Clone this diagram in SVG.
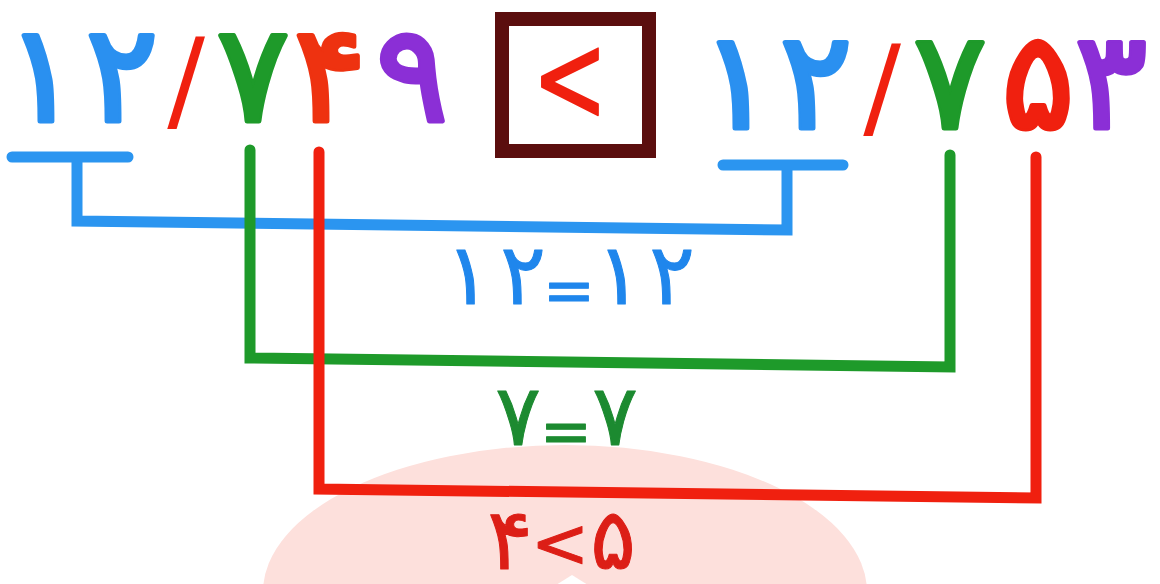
<svg xmlns="http://www.w3.org/2000/svg" width="1160" height="584" viewBox="0 0 1160 584">
<style>
.d{font-family:"DejaVu Sans","Noto Sans",sans-serif;font-weight:normal;text-anchor:middle;stroke-linejoin:round;paint-order:stroke}
.big{font-size:135px;stroke-width:5px}
.lab{font-size:85px;stroke-width:1px}
.blue{fill:#2a90f0;stroke:#2a90f0}.green{fill:#1e9a2a;stroke:#1e9a2a}.red{fill:#f0200f;stroke:#f0200f}.purple{fill:#8b2fd6;stroke:#8b2fd6}.orange{fill:#ee3210;stroke:#ee3210}
.lblue{fill:#1f86ec;stroke:#1f86ec}.lgreen{fill:#1c8a30;stroke:#1c8a30}.lred{fill:#dc1e16;stroke:#dc1e16}
.sl{font-size:112px;stroke-width:0}
.ln{fill:none;stroke-width:11;stroke-linecap:round;stroke-linejoin:miter}
</style>
<rect width="1160" height="584" fill="#ffffff"/>
<ellipse id="bg-shape" cx="565" cy="592" rx="302" ry="147" fill="#fde0dc"/>
<polygon points="572,575 548,590 596,590" fill="#ffffff"/>
<g id="number-left" class="d big">
<text x="42" y="121" class="blue">۱</text>
<text x="122" y="121" class="blue">۲</text>
<text x="186" y="119" class="red sl">/</text>
<text x="253" y="121" class="green">۷</text>
<text x="330" y="121" class="orange">۴</text>
<text x="412" y="121" class="purple">۹</text>
</g>
<g id="compare-box">
<rect x="502" y="19" width="147" height="132" fill="#ffffff" stroke="#5b0e0e" stroke-width="14"/>
<text x="570" y="121" transform="matrix(0.72 0 0 1 159.6 0)" class="d red" font-size="125" style="stroke-width:2px">&lt;</text>
</g>
<g id="number-right" class="d big">
<text x="737" y="128" class="blue">۱</text>
<text x="816" y="128" class="blue">۲</text>
<text x="882" y="126" class="red sl">/</text>
<text x="950" y="128" class="green">۷</text>
<text x="1038" y="128" class="red">۵</text>
<text x="1111" y="128" class="purple">۳</text>
</g>
<g id="connectors">
<path class="ln" stroke="#2b95f0" d="M12 157 H128 M77 157 V221 L787 230 V165 M723 165 H843"/>
<path class="ln" stroke="#1e9a2a" d="M250 150 V358 L950 367 V155"/>
<path class="ln" stroke="#f0200f" d="M319 152 V489 L1036 498 V157"/>
</g>
<g id="labels" class="d lab">
<text y="304" class="lblue"><tspan x="468">۱</tspan><tspan x="523">۲</tspan><tspan x="569" y="312" font-size="62">=</tspan><tspan x="619" y="304">۱</tspan><tspan x="672">۲</tspan></text>
<text y="445" class="lgreen"><tspan x="518">۷</tspan><tspan x="566" y="453" font-size="62">=</tspan><tspan x="615" y="445">۷</tspan></text>
<text y="569" class="lred"><tspan x="510">۴</tspan><tspan x="560" y="567" font-size="70">&lt;</tspan><tspan x="613" y="569">۵</tspan></text>
</g>
</svg>
